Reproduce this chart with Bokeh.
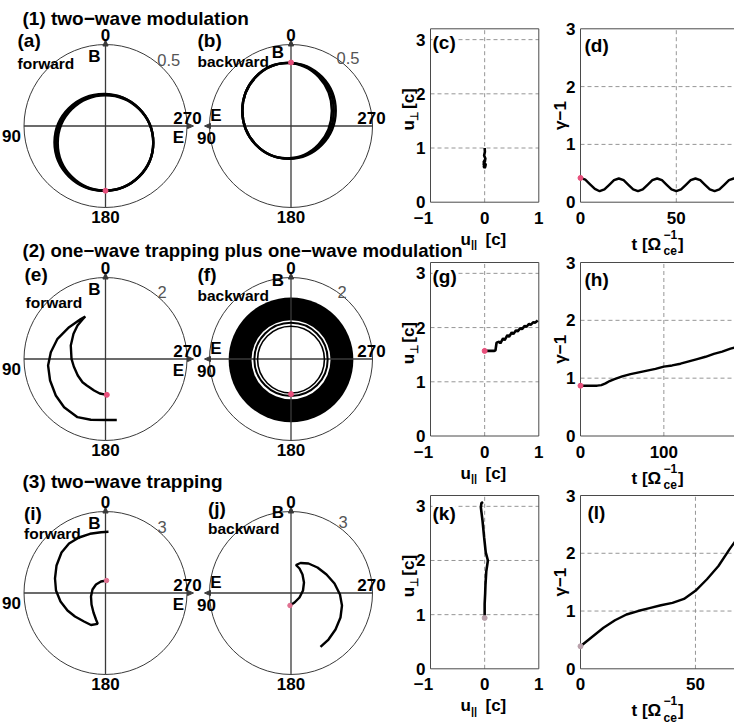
import numpy as np
from bokeh.core.properties import value
from bokeh.embed import file_html
from bokeh.models import Range1d
from bokeh.plotting import figure
from bokeh.resources import INLINE

FONT = "Liberation Sans"
INK = "black"
AXIS = "#3a3a3a"
FRAME = "#4a4a4a"
GRID = "#8a8a8a"
PINK = "#e8507c"
FADED = "#b8a0aa"

# ---------------------------------------------------------------- data
row_titles = ["(1) two\u2212wave modulation",
              "(2) one\u2212wave trapping plus one\u2212wave modulation",
              "(3) two\u2212wave trapping"]
title_sizes = [19, 18.6, 19]

polar_letters = ["(a)", "(b)", "(e)", "(f)", "(i)", "(j)"]
polar_modes = ["forward", "backward", "forward", "backward", "forward", "backward"]
polar_rmax = [0.5, 0.5, 2.0, 2.0, 3.0, 3.0]
polar_rtick = ["0.5", "0.5", "2", "2", "3", "3"]

# (a) forward, two-wave modulation: nested gyration loops
a_loop_x = [0.0, -0.005, -0.010]
a_loop_y = [-0.104, -0.102, -0.100]
a_loop_w = [0.586, 0.596, 0.606]
a_loop_h = [0.586, 0.590, 0.594]
a_start = (0.0, -0.397)

# (b) backward, two-wave modulation
b_loop_x = [-0.024, -0.018, -0.012]
b_loop_y = [0.094, 0.094, 0.093]
b_loop_w = [0.549, 0.561, 0.573]
b_loop_h = [0.585, 0.587, 0.589]
b_start = (0.0, 0.390)

# (e) forward, one-wave trapping: crescent orbit
e_x = [0.032, -0.140, -0.280, -0.459, -0.564, -0.680, -0.778, -0.834, -0.852, -0.785,
       -0.687, -0.564, -0.496, -0.606, -0.893, -1.178, -1.342, -1.409, -1.360, -1.220,
       -1.016, -0.687, -0.361, 0.049, 0.277]
e_y = [-0.879, -0.847, -0.773, -0.650, -0.569, -0.405, -0.184, 0.005, 0.331, 0.618,
       0.822, 0.969, 1.043, 0.982, 0.780, 0.496, 0.167, -0.160, -0.528, -0.896,
       -1.183, -1.428, -1.492, -1.497, -1.497]

# (f) backward, one-wave modulation: dense band of loops plus the first loops
f_band_outer = 1.53
f_band_inner = 0.97
f_band_y = -0.02
f_ring_y = [-0.01, -0.015]
f_ring_r = [0.90, 0.82]
f_start = (0.0, -0.86)

# (i) forward, two-wave trapping
i_x = [0.037, -0.166, -0.350, -0.478, -0.534, -0.515, -0.442, -0.350, -0.287, -0.534,
       -0.791, -1.123, -1.399, -1.656, -1.822, -1.859, -1.803, -1.619, -1.343, -0.975,
       -0.570, -0.166, 0.110]
i_y = [0.460, 0.423, 0.313, 0.129, -0.129, -0.423, -0.718, -0.975, -1.134, -1.178,
       -1.049, -0.865, -0.644, -0.313, 0.092, 0.534, 1.012, 1.491, 1.822, 2.043,
       2.179, 2.238, 2.252]

# (j) backward, two-wave trapping
j_x = [-0.037, 0.129, 0.313, 0.442, 0.478, 0.423, 0.313, 0.184, 0.350, 0.644,
       0.975, 1.307, 1.601, 1.803, 1.877, 1.822, 1.638, 1.380, 1.086]
j_y = [-0.460, -0.350, -0.166, 0.092, 0.386, 0.681, 0.902, 1.031, 1.104, 1.086,
       0.939, 0.681, 0.350, -0.055, -0.460, -0.902, -1.344, -1.712, -1.987]

# momentum-space trajectories (u_par, u_perp) in units of c
c_upar = [0.0, 0.005, -0.010, 0.015, -0.020, 0.025, -0.025, 0.020, -0.020, 0.015]
c_uperp = [1.00, 0.93, 0.86, 0.80, 0.74, 0.69, 0.65, 0.64, 0.70, 0.78]
g_upar = [0.0, 0.18, 0.20, 0.22, 0.27, 0.29, 0.34, 0.37, 0.42, 0.45, 0.50, 0.53,
          0.58, 0.61, 0.66, 0.69, 0.74, 0.77, 0.82, 0.85, 0.90, 0.93, 0.98]
g_uperp = [1.57, 1.57, 1.58, 1.72, 1.74, 1.71, 1.80, 1.77, 1.86, 1.83, 1.91, 1.88,
           1.95, 1.93, 1.99, 1.97, 2.03, 2.01, 2.07, 2.05, 2.10, 2.09, 2.13]
k_upar = [0.00, 0.00, 0.01, 0.015, 0.03, 0.06, 0.02, -0.01, -0.04, -0.07, -0.06, -0.03]
k_uperp = [0.94, 1.20, 1.40, 1.55, 1.80, 2.00, 2.15, 2.43, 2.74, 2.98, 3.06, 3.08]

# kinetic energy gamma-1 against time [1/Omega_ce]
d_t = [0, 2.5, 5, 7.5, 10, 12.5, 15, 17.5, 20, 22.5, 25, 27.5, 30, 32.5, 35, 37.5,
       40, 42.5, 45, 47.5, 50, 52.5, 55, 57.5, 60, 62.5, 65, 67.5, 70, 72.5, 75,
       77.5, 80, 82.5, 85, 87.5]
d_gm1 = [0.42, 0.39, 0.31, 0.23, 0.19, 0.22, 0.30, 0.38, 0.41, 0.38, 0.30, 0.22,
         0.19, 0.22, 0.30, 0.38, 0.41, 0.38, 0.30, 0.22, 0.19, 0.22, 0.30, 0.38,
         0.41, 0.38, 0.30, 0.22, 0.19, 0.22, 0.30, 0.38, 0.41, 0.38, 0.30, 0.22]
h_t = [0, 5, 10, 15, 20, 25, 30, 35, 40, 50, 60, 70, 80, 90, 100, 110, 120, 130,
       140, 150, 160, 170, 180, 190, 200]
h_gm1 = [0.87, 0.87, 0.87, 0.87, 0.87, 0.88, 0.91, 0.95, 0.98, 1.03, 1.07, 1.10,
         1.13, 1.16, 1.20, 1.22, 1.25, 1.29, 1.33, 1.37, 1.42, 1.46, 1.51, 1.55, 1.59]
l_t = [0, 5, 10, 15, 20, 25, 30, 35, 40, 45, 50, 55, 60, 65, 70, 72.5]
l_gm1 = [0.39, 0.55, 0.71, 0.84, 0.94, 1.00, 1.05, 1.10, 1.14, 1.21, 1.35, 1.55,
         1.78, 2.08, 2.36, 2.48]

upar_ticks = [-1, 0, 1]
upar_labels = ["\u22121", "0", "1"]
uperp_ticks = [0, 1, 2, 3]
uperp_labels = ["0", "1", "2", "3"]
gm1_ticks = [0, 1, 2, 3]
gm1_labels = ["0", "1", "2", "3"]
t_ranges = [(0, 87), (0, 200), (0, 72.5)]
t_ticks = [[0, 50], [0, 100], [0, 50]]
t_labels = [["0", "50"], ["0", "100"], ["0", "50"]]
cart_letters = [("(c)", "(d)"), ("(g)", "(h)"), ("(k)", "(l)")]

# ---------------------------------------------------------------- layout
W, H = 734, 728
POLAR_CX = [105.0, 290.5]
POLAR_CY = [125.5, 358.5, 592.5]
R_PX = 81.5
TITLE_Y = [18, 250, 481]
CART_TOP = [28.3, 262.0, 495.0]
CART_BOTTOM = [201.7, 435.5, 668.3]
U_LEFT, U_RIGHT = 430.0, 538.3
T_LEFT, T_RIGHT = 580.0, 746.7
TICK_SIZE = 17
CURVE_W = 2.4

p = figure(width=W, height=H, x_range=Range1d(0, W), y_range=Range1d(H, 0),
           output_backend="svg", toolbar_location=None, title=None,
           x_axis_location=None, y_axis_location=None, min_border=0,
           outline_line_color=None, background_fill_color="white",
           border_fill_color="white")
p.grid.visible = False


def label(x, y, s, size=TICK_SIZE, align="center", color=INK, style="bold", angle=0.0, bg=None):
    extra = {"background_fill_color": bg} if bg else {}
    p.text(x=[x], y=[y], text=[s], angle=angle, text_font=value(FONT),
           text_font_size=f"{size}px", text_font_style=style, text_color=color,
           text_align=align, text_baseline="middle", **extra)


# ---------------------------------------------------------------- polar panels
def polar_frame(cx, cy, rmax):
    s = p.subplot(x_source=Range1d(-rmax, rmax), y_source=Range1d(-rmax, rmax),
                  x_target=Range1d(cx - R_PX, cx + R_PX),
                  y_target=Range1d(cy + R_PX, cy - R_PX))
    s.ellipse(x=[0], y=[0], width=[2 * rmax], height=[2 * rmax],
              fill_color=None, line_color=AXIS, line_width=1)
    return s


def polar_axes(s, rmax, mode):
    k = rmax / R_PX  # data units per screen pixel
    # B axis pointing up
    s.segment(x0=[0], y0=[-rmax], x1=[0], y1=[rmax + 1.5 * k], line_color=AXIS, line_width=1.3)
    s.patch(x=[-2.6 * k, 2.6 * k, 0], y=[rmax - 1.5 * k, rmax - 1.5 * k, rmax + 4.5 * k],
            color=AXIS)
    # E axis: to the right for forward waves, to the left for backward waves
    if mode == "forward":
        s.segment(x0=[-rmax], y0=[0], x1=[rmax + 1.5 * k], y1=[0], line_color=AXIS, line_width=1.3)
        s.patch(x=[rmax + 0.5 * k, rmax + 0.5 * k, rmax + 6.5 * k],
                y=[-2.6 * k, 2.6 * k, 0], color=AXIS)
    else:
        s.segment(x0=[-rmax - 1.5 * k], y0=[0], x1=[rmax], y1=[0], line_color=AXIS, line_width=1.3)
        s.patch(x=[-rmax + 1.0 * k, -rmax + 1.0 * k, -rmax - 5.0 * k],
                y=[-2.6 * k, 2.6 * k, 0], color=AXIS)


def polar_texts(cx, cy, mode, letter_pos, word_pos, b_pos, r_pos, rtext, letter):
    label(letter_pos[0], letter_pos[1], letter, size=19, align="left")
    label(word_pos[0], word_pos[1], mode, size=15.5, align="left")
    label(b_pos[0], b_pos[1], "B")
    label(r_pos[0], r_pos[1], rtext, size=16.5, color="#555555", style="normal")
    label(cx, cy - 91.5, "0")
    label(cx, cy + 91, "180")
    if mode == "forward":
        label(cx - 94, cy + 10, "90")
        label(cx + 82, cy - 8.5, "270")
        label(cx + 73, cy + 11, "E")
    else:
        label(cx - 84.5, cy + 11.5, "90")
        label(cx + 80.5, cy - 8, "270")
        label(cx - 75, cy - 11, "E")


# (a)
cx, cy, rm = POLAR_CX[0], POLAR_CY[0], polar_rmax[0]
s = polar_frame(cx, cy, rm)
polar_axes(s, rm, polar_modes[0])
s.ellipse(x=a_loop_x, y=a_loop_y, width=a_loop_w, height=a_loop_h,
          fill_color=None, line_color=INK, line_width=CURVE_W)
s.scatter(x=[a_start[0]], y=[a_start[1]], size=5, color=PINK)
polar_texts(cx, cy, polar_modes[0], (17, 40), (17, 62.5), (94, 56), (168.3, 59),
            polar_rtick[0], polar_letters[0])

# (b)
cx, cy, rm = POLAR_CX[1], POLAR_CY[0], polar_rmax[1]
s = polar_frame(cx, cy, rm)
polar_axes(s, rm, polar_modes[1])
s.ellipse(x=b_loop_x, y=b_loop_y, width=b_loop_w, height=b_loop_h,
          fill_color=None, line_color=INK, line_width=CURVE_W)
s.scatter(x=[b_start[0]], y=[b_start[1]], size=5, color=PINK)
polar_texts(cx, cy, polar_modes[1], (197, 40), (197, 61), (277.5, 51.5), (347.5, 57),
            polar_rtick[1], polar_letters[1])

# (e)
cx, cy, rm = POLAR_CX[0], POLAR_CY[1], polar_rmax[2]
s = polar_frame(cx, cy, rm)
polar_axes(s, rm, polar_modes[2])
s.line(e_x, e_y, line_color=INK, line_width=CURVE_W)
s.scatter(x=[e_x[0]], y=[e_y[0]], size=5, color=PINK)
polar_texts(cx, cy, polar_modes[2], (24, 273.5), (25, 301.5), (94, 289), (161.7, 291),
            polar_rtick[2], polar_letters[2])

# (f)
cx, cy, rm = POLAR_CX[1], POLAR_CY[1], polar_rmax[3]
s = polar_frame(cx, cy, rm)
s.ellipse(x=[0], y=[f_band_y], width=[2 * f_band_outer], height=[2 * f_band_outer],
          fill_color=INK, line_color=None)
s.ellipse(x=[0], y=[f_band_y], width=[2 * f_band_inner], height=[2 * f_band_inner],
          fill_color="white", line_color=None)
polar_axes(s, rm, polar_modes[3])
s.ellipse(x=[0, 0], y=f_ring_y, width=[2 * r for r in f_ring_r],
          height=[2 * r for r in f_ring_r], fill_color=None, line_color=INK,
          line_width=[2.0, 1.6])
s.scatter(x=[f_start[0]], y=[f_start[1]], size=5, color=PINK)
polar_texts(cx, cy, polar_modes[3], (197, 274), (197, 294.5), (277.5, 280), (341.7, 291.7),
            polar_rtick[3], polar_letters[3])

# (i)
cx, cy, rm = POLAR_CX[0], POLAR_CY[2], polar_rmax[4]
s = polar_frame(cx, cy, rm)
polar_axes(s, rm, polar_modes[4])
s.line(i_x, i_y, line_color=INK, line_width=CURVE_W)
s.scatter(x=[i_x[0]], y=[i_y[0]], size=4.5, color="#e07090")
polar_texts(cx, cy, polar_modes[4], (23.5, 513), (23.5, 533), (94, 522.5), (161.7, 526.7),
            polar_rtick[4], polar_letters[4])

# (j)
cx, cy, rm = POLAR_CX[1], POLAR_CY[2], polar_rmax[5]
s = polar_frame(cx, cy, rm)
polar_axes(s, rm, polar_modes[5])
s.line(j_x, j_y, line_color=INK, line_width=CURVE_W)
s.scatter(x=[j_x[0]], y=[j_y[0]], size=4.5, color="#e07090")
polar_texts(cx, cy, polar_modes[5], (207.5, 508), (207.5, 527.5), (277.5, 511.7), (342.5, 521),
            polar_rtick[5], polar_letters[5])


# ---------------------------------------------------------------- cartesian panels
def cart_panel(left, right, top, bottom, xr, yr, xt, xl, yt, yl, x_off):
    s = p.subplot(x_source=Range1d(*xr), y_source=Range1d(*yr),
                  x_target=Range1d(left, right), y_target=Range1d(bottom, top))
    gx = [v for v in xt if xr[0] < v < xr[1]]
    gy = [v for v in yt if yr[0] < v < yr[1]]
    s.segment(x0=gx, y0=[yr[0]] * len(gx), x1=gx, y1=[yr[1]] * len(gx),
              line_color=GRID, line_width=0.9, line_dash="4 3")
    s.segment(x0=[xr[0]] * len(gy), y0=gy, x1=[xr[1]] * len(gy), y1=gy,
              line_color=GRID, line_width=0.9, line_dash="4 3")
    s.quad(left=[xr[0]], right=[xr[1]], bottom=[yr[0]], top=[yr[1]],
           fill_color=None, line_color=FRAME, line_width=1)
    s.text(x=xt, y=[yr[0]] * len(xt), text=xl, x_offset=x_off, y_offset=15.5,
           text_font=value(FONT), text_font_size=f"{TICK_SIZE}px", text_font_style="bold",
           text_align="center", text_baseline="middle", text_color=INK)
    s.text(x=[xr[0]] * len(yt), y=yt, text=yl, x_offset=-5, y_offset=0,
           text_font=value(FONT), text_font_size=f"{TICK_SIZE}px", text_font_style="bold",
           text_align="right", text_baseline="middle", text_color=INK)
    return s


u_tracks = [(c_upar, c_uperp, PINK), (g_upar, g_uperp, PINK), (k_upar, k_uperp, FADED)]
e_tracks = [(d_t, d_gm1, PINK), (h_t, h_gm1, PINK), (l_t, l_gm1, FADED)]
letter_y = [(41.5, 45.0), (276.0, 279.0), (512.5, 511.7)]

for r in range(3):
    top, bottom = CART_TOP[r], CART_BOTTOM[r]
    mid = 0.5 * (top + bottom)

    # momentum space
    s = cart_panel(U_LEFT, U_RIGHT, top, bottom, (-1, 1), (0, 3.2),
                   upar_ticks, upar_labels, uperp_ticks, uperp_labels, [-7, 0, 0])
    ux, uy, dot = u_tracks[r]
    s.line(ux, uy, line_color=INK, line_width=2.6)
    if r > 0:
        s.scatter(x=[ux[0]], y=[uy[0]], size=5, color=dot)
    label(432, letter_y[r][0], cart_letters[r][0], size=19, align="left", bg="white")
    # u_par axis title
    label(460, bottom + 37, "u", align="left")
    label(470.5, bottom + 42, "||", size=11, align="left")
    label(485, bottom + 37, "[c]", align="left")
    # u_perp axis title (vertical)
    label(408, mid + 15, "u", align="left", angle=np.pi / 2)
    label(413, mid + 5, "\u22a5", size=11, align="left", angle=np.pi / 2)
    label(408, mid - 6.5, "[c]", align="left", angle=np.pi / 2)

    # energy history
    s = cart_panel(T_LEFT, T_RIGHT, top, bottom, t_ranges[r], (0, 3),
                   t_ticks[r], t_labels[r], gm1_ticks, gm1_labels, [0] * len(t_ticks[r]))
    tx, ty, dot = e_tracks[r]
    s.line(tx, ty, line_color=INK, line_width=CURVE_W)
    s.scatter(x=[tx[0]], y=[ty[0]], size=5, color=dot)
    label(584 if r < 2 else 587, letter_y[r][1], cart_letters[r][1], size=19, align="left")
    label(560, mid, "\u03b3\u22121", angle=np.pi / 2)
    # time axis title
    label(631, bottom + 42, "t [\u03a9", align="left")
    label(663, bottom + 32, "\u22121", size=12, align="left")
    label(663, bottom + 49, "ce", size=12, align="left")
    label(677.5, bottom + 42, "]", align="left")

# ---------------------------------------------------------------- row titles
for r in range(3):
    label(22, TITLE_Y[r], row_titles[r], size=title_sizes[r], align="left")

open("out.html", "w").write(file_html(p, INLINE))
